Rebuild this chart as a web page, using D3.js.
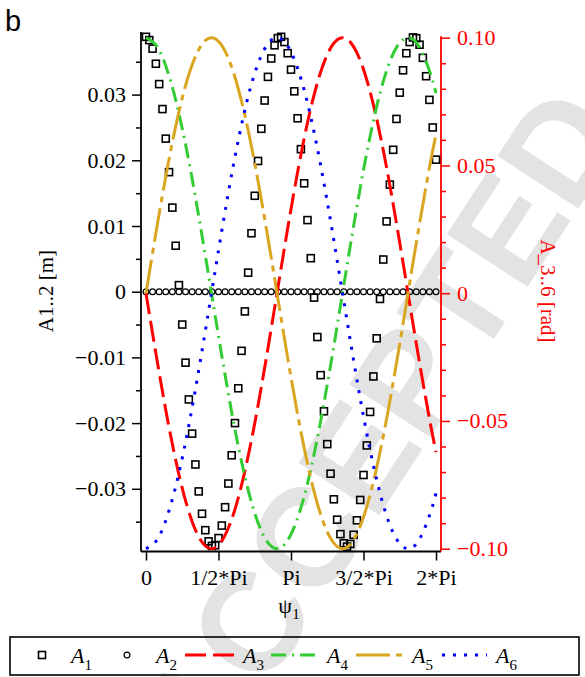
<!DOCTYPE html>
<html>
<head>
<meta charset="utf-8">
<script src="https://cdn.jsdelivr.net/npm/d3@7"></script>
<style>
  body { margin: 0; background: #fff; }
  svg { display: block; }
</style>
</head>
<body>
<script>
const W = 585, H = 677;

// psi sample positions (rad) for the smooth curves A3..A6
const psiLine = [0, 0.2365, 0.4731, 0.7096, 0.9461, 1.1827, 1.4192, 1.6557, 1.8922, 2.1288,
  2.3653, 2.6018, 2.8384, 3.0749, 3.3114, 3.5480, 3.7845, 4.0210, 4.2575, 4.4941,
  4.7306, 4.9671, 5.2037, 5.4402, 5.6767, 5.9133, 6.1498, 6.2832];

// angles [rad], right axis
const a3 = [0, -0.0259, -0.05, -0.0707, -0.0866, -0.0966, -0.1, -0.0966, -0.0866, -0.0707,
  -0.05, -0.0259, 0, 0.0259, 0.05, 0.0707, 0.0866, 0.0966, 0.1, 0.0966,
  0.0866, 0.0707, 0.05, 0.0259, 0, -0.0259, -0.05, -0.0622];
const a4 = [0.1, 0.0966, 0.0866, 0.0707, 0.05, 0.0259, 0, -0.0259, -0.05, -0.0707,
  -0.0866, -0.0966, -0.1, -0.0966, -0.0866, -0.0707, -0.05, -0.0259, 0, 0.0259,
  0.05, 0.0707, 0.0866, 0.0966, 0.1, 0.0966, 0.0866, 0.0783];
const a5 = [0, 0.0259, 0.05, 0.0707, 0.0866, 0.0966, 0.1, 0.0966, 0.0866, 0.0707,
  0.05, 0.0259, 0, -0.0259, -0.05, -0.0707, -0.0866, -0.0966, -0.1, -0.0966,
  -0.0866, -0.0707, -0.05, -0.0259, 0, 0.0259, 0.05, 0.0622];
const a6 = [-0.1, -0.0966, -0.0866, -0.0707, -0.05, -0.0259, 0, 0.0259, 0.05, 0.0707,
  0.0866, 0.0966, 0.1, 0.0966, 0.0866, 0.0707, 0.05, 0.0259, 0, -0.0259,
  -0.05, -0.0707, -0.0866, -0.0966, -0.1, -0.0966, -0.0866, -0.0783];

// displacements [m], left axis (89 samples over 0..2Pi)
const a1 = [0.0388, 0.0383, 0.0370, 0.0347, 0.0316, 0.0278, 0.0233, 0.0182, 0.0128, 0.0070,
  0.0010, -0.0050, -0.0108, -0.0164, -0.0216, -0.0263, -0.0304, -0.0338, -0.0363, -0.0380,
  -0.0387, -0.0386, -0.0375, -0.0356, -0.0328, -0.0292, -0.0249, -0.0200, -0.0147, -0.0090,
  -0.0030, 0.0029, 0.0089, 0.0146, 0.0199, 0.0248, 0.0291, 0.0327, 0.0355, 0.0375,
  0.0386, 0.0388, 0.0380, 0.0363, 0.0338, 0.0305, 0.0264, 0.0217, 0.0165, 0.0109,
  0.0051, -0.0009, -0.0069, -0.0127, -0.0182, -0.0232, -0.0277, -0.0316, -0.0347, -0.0369,
  -0.0383, -0.0388, -0.0384, -0.0370, -0.0348, -0.0317, -0.0279, -0.0234, -0.0183, -0.0129,
  -0.0071, -0.0011, 0.0049, 0.0107, 0.0163, 0.0216, 0.0263, 0.0303, 0.0337, 0.0363,
  0.0380, 0.0387, 0.0386, 0.0376, 0.0356, 0.0328, 0.0292, 0.0250, 0.0201];
// 45 samples over 0..2Pi
const a2 = [0, 0, 0, 0, 0, 0, 0, 0, 0, 0, 0, 0, 0, 0, 0,
  0, 0, 0, 0, 0, 0, 0, 0, 0, 0, 0, 0, 0, 0, 0,
  0, 0, 0, 0, 0, 0, 0, 0, 0, 0, 0, 0, 0, 0, 0];

const psiTicks = [0, Math.PI / 2, Math.PI, 3 * Math.PI / 2, 2 * Math.PI];
const psiTickLabels = ["0", "1/2*Pi", "Pi", "3/2*Pi", "2*Pi"];
const leftTicks = [-0.03, -0.02, -0.01, 0, 0.01, 0.02, 0.03];
const leftTickLabels = ["\u22120.03", "\u22120.02", "\u22120.01", "0", "0.01", "0.02", "0.03"];
const leftMinor = [-0.035, -0.025, -0.015, -0.005, 0.005, 0.015, 0.025, 0.035];
const rightTicks = [-0.1, -0.05, 0, 0.05, 0.1];
const rightTickLabels = ["\u22120.10", "\u22120.05", "0", "0.05", "0.10"];
const rightMinor = [-0.09, -0.08, -0.07, -0.06, -0.04, -0.03, -0.02, -0.01,
  0.01, 0.02, 0.03, 0.04, 0.06, 0.07, 0.08, 0.09];

const X0 = 141, X1 = 441, Y0 = 32, Y1 = 551.5;
const serif = "'Liberation Serif', 'Times New Roman', serif";

const svg = d3.select("body").append("svg")
  .attr("width", W)
  .attr("height", H);

// watermark
svg.append("text")
  .attr("transform", "translate(378,428) rotate(-57)")
  .attr("text-anchor", "middle")
  .attr("dominant-baseline", "central")
  .style("font-family", "'Liberation Sans', Arial, sans-serif")
  .style("font-weight", "bold")
  .style("font-size", "140px")
  .attr("fill", "#e3e3e3")
  .text("ACCEPTED");

const x = d3.scaleLinear().domain([-0.108, 6.391]).range([X0, X1]);
const yL = d3.scaleLinear().domain([-0.0395, 0.0395]).range([551.2, 32.2]);
const yR = d3.scaleLinear().domain([-0.1, 0.1]).range([548.7, 37.7]);

// ---- axes
function styleAxis(g, color) {
  g.select(".domain").remove();
  g.selectAll("line").attr("stroke", color).attr("stroke-width", 1.5);
  g.selectAll("text")
    .attr("fill", color)
    .style("font-family", serif)
    .style("font-size", "22px");
}

const gL = svg.append("g").attr("transform", `translate(${X0},0)`)
  .call(d3.axisLeft(yL).tickValues(leftTicks)
    .tickFormat(d => leftTickLabels[leftTicks.indexOf(d)])
    .tickSize(9).tickPadding(6));
styleAxis(gL, "#000");
const gLm = svg.append("g").attr("transform", `translate(${X0},0)`)
  .call(d3.axisLeft(yL).tickValues(leftMinor).tickFormat("").tickSize(5));
styleAxis(gLm, "#000");

const gR = svg.append("g").attr("transform", `translate(${X1},0)`)
  .call(d3.axisRight(yR).tickValues(rightTicks)
    .tickFormat(d => rightTickLabels[rightTicks.indexOf(d)])
    .tickSize(9).tickPadding(7));
styleAxis(gR, "#ff0000");
const gRm = svg.append("g").attr("transform", `translate(${X1},0)`)
  .call(d3.axisRight(yR).tickValues(rightMinor).tickFormat("").tickSize(5));
styleAxis(gRm, "#ff0000");

const gB = svg.append("g").attr("transform", `translate(0,${Y1})`)
  .call(d3.axisBottom(x).tickValues(psiTicks)
    .tickFormat(d => psiTickLabels[psiTicks.indexOf(d)])
    .tickSize(9).tickPadding(9));
styleAxis(gB, "#000");

svg.append("line").attr("x1", X0).attr("x2", X0).attr("y1", Y0).attr("y2", Y1)
  .attr("stroke", "#000").attr("stroke-width", 1.8);
svg.append("line").attr("x1", X0).attr("x2", X1).attr("y1", Y1).attr("y2", Y1)
  .attr("stroke", "#000").attr("stroke-width", 1.8);
svg.append("line").attr("x1", X1).attr("x2", X1).attr("y1", yR(0.1) - 1.5).attr("y2", Y1)
  .attr("stroke", "#ff0000").attr("stroke-width", 1.8);

// ---- axis titles
svg.append("text")
  .attr("transform", "translate(53,291) rotate(-90)")
  .attr("text-anchor", "middle")
  .style("font-family", serif).style("font-size", "21px")
  .text("A1..2 [m]");

svg.append("text")
  .attr("transform", "translate(541,291) rotate(90)")
  .attr("text-anchor", "middle")
  .attr("fill", "#ff0000")
  .style("font-family", serif).style("font-size", "21px")
  .text("A_3..6 [rad]");

const xl = svg.append("text")
  .attr("x", 289).attr("y", 613)
  .attr("text-anchor", "middle")
  .style("font-family", serif).style("font-size", "22px");
xl.append("tspan").text("\u03c8");
xl.append("tspan").attr("dy", 6).style("font-size", "15px").text("1");

svg.append("text")
  .attr("x", 5).attr("y", 31)
  .style("font-family", "'Liberation Sans', Arial, sans-serif")
  .style("font-size", "29px")
  .text("b");

// ---- data
const psiA1 = d3.range(a1.length).map(i => i * 2 * Math.PI / (a1.length - 1));
const psiA2 = d3.range(a2.length).map(i => i * 2 * Math.PI / (a2.length - 1));

const sq = 7;
svg.append("g").selectAll("rect")
  .data(a1)
  .enter()
  .append("rect")
  .attr("x", (d, i) => x(psiA1[i]) - sq / 2)
  .attr("y", d => yL(d) - sq / 2)
  .attr("width", sq).attr("height", sq)
  .attr("fill", "none").attr("stroke", "#000").attr("stroke-width", 1.6);

svg.append("g").selectAll("circle")
  .data(a2)
  .enter()
  .append("circle")
  .attr("cx", (d, i) => x(psiA2[i]))
  .attr("cy", d => yL(d))
  .attr("r", 2.9)
  .attr("fill", "none").attr("stroke", "#000").attr("stroke-width", 1.2);

const series = [
  { name: "3", vals: a3, color: "#ff0000", dash: "21,7" },
  { name: "4", vals: a4, color: "#33cc33", dash: "15,6,2,6" },
  { name: "5", vals: a5, color: "#daa520", dash: "34,6,6,6" },
  { name: "6", vals: a6, color: "#0000ff", dash: "3,8" }
];

const line = d3.line()
  .x((d, i) => x(psiLine[i]))
  .y(d => yR(d))
  .curve(d3.curveNatural);

series.forEach(s => {
  svg.append("path")
    .attr("d", line(s.vals))
    .attr("fill", "none")
    .attr("stroke", s.color)
    .attr("stroke-width", 3)
    .attr("stroke-dasharray", s.dash);
});

// ---- legend
svg.append("rect")
  .attr("x", 10).attr("y", 637).attr("width", 569).attr("height", 38)
  .attr("fill", "none").attr("stroke", "#000").attr("stroke-width", 1.6);

const LY = 655;
function legendLabel(xp, sub) {
  const t = svg.append("text").attr("x", xp).attr("y", 663)
    .style("font-family", serif).style("font-size", "22px").style("font-style", "italic");
  t.append("tspan").text("A");
  t.append("tspan").attr("dy", 7).style("font-size", "15px").style("font-style", "normal").text(sub);
}

svg.append("rect").attr("x", 42 - 3.5).attr("y", LY - 3.5).attr("width", 7).attr("height", 7)
  .attr("fill", "none").attr("stroke", "#000").attr("stroke-width", 1.6);
legendLabel(71, "1");
svg.append("circle").attr("cx", 127).attr("cy", LY).attr("r", 2.9)
  .attr("fill", "none").attr("stroke", "#000").attr("stroke-width", 1.2);
legendLabel(156, "2");

const legendX = [185, 271, 356, 442];
const legendLen = [50, 48, 50, 45];
const legendText = [243, 327, 412, 496];
series.forEach((s, i) => {
  svg.append("line")
    .attr("x1", legendX[i]).attr("x2", legendX[i] + legendLen[i])
    .attr("y1", LY).attr("y2", LY)
    .attr("stroke", s.color).attr("stroke-width", 3)
    .attr("stroke-dasharray", s.dash);
  legendLabel(legendText[i], s.name);
});
</script>
</body>
</html>
